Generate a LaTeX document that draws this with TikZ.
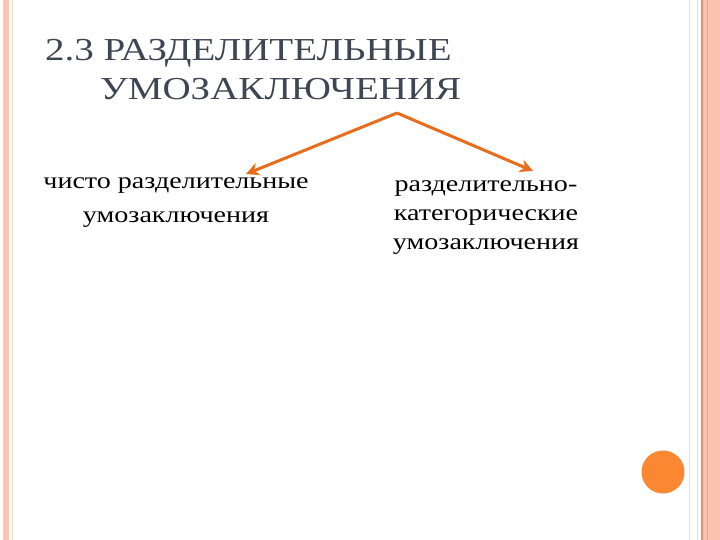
\documentclass[tikz,border=0pt]{standalone}
\usepackage{fontspec}
\setmainfont{Liberation Serif}
\newfontfamily\widefont[FakeStretch=1.22]{Liberation Serif}
\usetikzlibrary{positioning, arrows.meta}
\definecolor{titlegray}{RGB}{62,70,84}
\definecolor{arroworange}{RGB}{232,108,28}
\definecolor{dotorange}{RGB}{250,136,50}
\definecolor{bandsalmon}{RGB}{252,196,176}
\definecolor{linesalmon}{RGB}{240,140,100}
\definecolor{linepale}{RGB}{240,215,200}
\tikzset{
  heading/.style={text=titlegray, font=\widefont\fontsize{32}{39}\selectfont, align=left, inner sep=0pt, anchor=north west},
  term/.style={text=black, font=\widefont\fontsize{23}{34}\selectfont, align=center, inner sep=0pt},
  termtight/.style={term, font=\widefont\fontsize{23}{29}\selectfont},
  branch/.style={draw=arroworange, line width=3pt, -{Stealth[length=13pt, width=13pt]}}
}
\begin{document}
\begin{tikzpicture}[x=1pt, y=-1pt]
\useasboundingbox (0,0) rectangle (720,540);
%% frame
  \fill[white] (0,0) rectangle (720,540);
  \fill[bandsalmon] (3,0) rectangle (9,540);
  \draw[linepale, line width=1pt] (12.5,0) -- (12.5,540);
  \draw[linepale, line width=1.5pt] (689.5,0) -- (689.5,540);
  \draw[linepale, line width=1pt] (697.5,0) -- (697.5,540);
  \fill[bandsalmon] (702,0) rectangle (720,540);
  \draw[linesalmon, line width=1.2pt] (702,0) -- (702,540);
  \draw[linesalmon!60!bandsalmon, line width=0.8pt] (707,0) -- (707,540);
%% title
  \node[heading] (title) at (45,39) {2.3 РАЗДЕЛИТЕЛЬНЫЕ\\\hspace*{55pt}УМОЗАКЛЮЧЕНИЯ};
%% branches
  \node[term] (left) at (176,203) {чисто разделительные\\умозаключения};
  \node[termtight] (right) at (486,218) {разделительно-\\категорические\\умозаключения};
  \coordinate (apex) at (397,113);
  \coordinate (lefttip) at (246,174);
  \coordinate (righttip) at (533,171);
  \draw[branch] (apex) -- (lefttip);
  \draw[branch] (apex) -- (righttip);
%% dot
  \fill[dotorange] (663,472) circle (21.5);
\end{tikzpicture}
\end{document}
